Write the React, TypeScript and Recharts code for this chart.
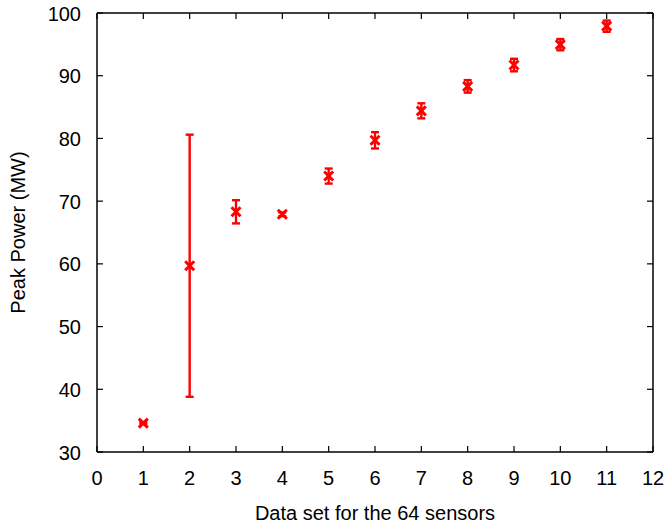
import { ScatterChart, Scatter, XAxis, YAxis, ErrorBar, Label } from 'recharts';

// measurement sets for the 64 sensors
const dataSets = [1, 2, 3, 4, 5, 6, 7, 8, 9, 10, 11];
const peakPower = [34.6, 59.7, 68.3, 67.9, 74.0, 79.7, 84.4, 88.3, 91.7, 94.95, 97.9];
const peakError = [0.15, 20.9, 1.85, 0.3, 1.2, 1.3, 1.2, 1.0, 1.0, 0.9, 0.9];

const xTicks = [0, 1, 2, 3, 4, 5, 6, 7, 8, 9, 10, 11, 12];
const yTicks = [30, 40, 50, 60, 70, 80, 90, 100];

const data = dataSets.map((set, i) => ({ set, power: peakPower[i], err: peakError[i] }));

const RED = '#ff0000';
const FONT = '"Liberation Sans", Arial, sans-serif';
const FS = 20;
const TICK = 6;

function Cross(props: any) {
  const { cx, cy } = props;
  const r = 4.5;
  return (
    <g stroke={RED} strokeWidth={3}>
      <line x1={cx - r} y1={cy - r} x2={cx + r} y2={cy + r} />
      <line x1={cx - r} y1={cy + r} x2={cx + r} y2={cy - r} />
    </g>
  );
}

function BottomTick({ x, y, payload }: any) {
  return (
    <g>
      <line x1={x} y1={y} x2={x} y2={y - TICK} stroke="#000" strokeWidth={1.2} />
      <text x={x} y={y + 33} textAnchor="middle" fill="#000" fontSize={FS} fontFamily={FONT}>
        {payload.value}
      </text>
    </g>
  );
}

function LeftTick({ x, y, payload }: any) {
  return (
    <g>
      <line x1={x} y1={y} x2={x + TICK} y2={y} stroke="#000" strokeWidth={1.2} />
      <text x={x - 16} y={y + 7.5} textAnchor="end" fill="#000" fontSize={FS} fontFamily={FONT}>
        {payload.value}
      </text>
    </g>
  );
}

function TopTick({ x, y }: any) {
  return <line x1={x} y1={y} x2={x} y2={y + TICK} stroke="#000" strokeWidth={1.2} />;
}

function RightTick({ x, y }: any) {
  return <line x1={x} y1={y} x2={x - TICK} y2={y} stroke="#000" strokeWidth={1.2} />;
}

export default function App() {
  return (
    <div style={{ position: 'absolute', left: 0, top: 0, background: '#fff' }}>
      <ScatterChart width={665} height={526} margin={{ top: 12, right: 11, bottom: 0, left: 0 }}>
        <XAxis
          xAxisId="bottom"
          type="number"
          dataKey="set"
          domain={[0, 12]}
          ticks={xTicks}
          interval={0}
          height={74}
          tickSize={0}
          tickMargin={0}
          tickLine={false}
          tick={<BottomTick />}
          axisLine={{ stroke: '#000', strokeWidth: 1.5 }}
        >
          <Label
            value="Data set for the 64 sensors"
            position="insideBottom"
            offset={6}
            style={{ fontSize: FS, fontFamily: FONT, fill: '#000' }}
          />
        </XAxis>
        <XAxis
          xAxisId="top"
          orientation="top"
          type="number"
          dataKey="set"
          domain={[0, 12]}
          ticks={xTicks}
          interval={0}
          height={1}
          tickSize={0}
          tickMargin={0}
          tickLine={false}
          tick={<TopTick />}
          allowDataOverflow
          axisLine={{ stroke: '#000', strokeWidth: 1.5 }}
        />
        <YAxis
          yAxisId="left"
          type="number"
          dataKey="power"
          domain={[30, 100]}
          ticks={yTicks}
          interval={0}
          width={97}
          tickSize={0}
          tickMargin={0}
          tickLine={false}
          tick={<LeftTick />}
          axisLine={{ stroke: '#000', strokeWidth: 1.5 }}
        >
          <Label
            value="Peak Power (MW)"
            angle={-90}
            position="insideLeft"
            dx={13}
            style={{ textAnchor: 'middle', fontSize: FS, fontFamily: FONT, fill: '#000' }}
          />
        </YAxis>
        <YAxis
          yAxisId="right"
          orientation="right"
          type="number"
          dataKey="power"
          domain={[30, 100]}
          ticks={yTicks}
          interval={0}
          width={1}
          tickSize={0}
          tickMargin={0}
          tickLine={false}
          tick={<RightTick />}
          allowDataOverflow
          axisLine={{ stroke: '#000', strokeWidth: 1.5 }}
        />
        <Scatter
          data={data}
          xAxisId="top"
          yAxisId="right"
          shape={() => <g />}
          isAnimationActive={false}
        />
        <Scatter
          data={data}
          xAxisId="bottom"
          yAxisId="left"
          fill={RED}
          shape={<Cross />}
          isAnimationActive={false}
        >
          <ErrorBar dataKey="err" direction="y" width={4} stroke={RED} strokeWidth={2.4} />
        </Scatter>
      </ScatterChart>
    </div>
  );
}
